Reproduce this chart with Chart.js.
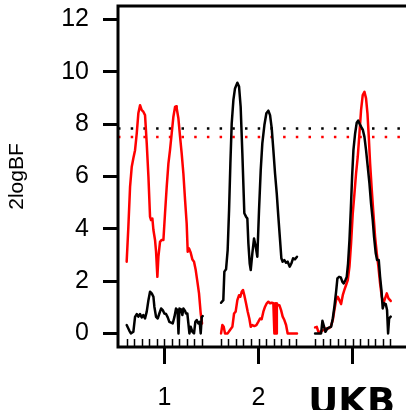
<!DOCTYPE html>
<html>
<head>
<meta charset="utf-8">
<script src="https://cdn.jsdelivr.net/npm/chart.js@4.4.1/dist/chart.umd.min.js"></script>
<style>
html,body{margin:0;padding:0;background:#fff;overflow:hidden;width:406px;height:410px;}
canvas{display:block;}
</style>
</head>
<body>
<canvas id="c" width="440" height="410" style="width:440px;height:410px"></canvas>
<script>
// ---- data ----
const yTicks = [0, 2, 4, 6, 8, 10, 12];
const xTickValues = [1, 2, 3];
const xTickLabels = ['1', '2', ''];   // label "3" is hidden under the logo
const yTitle = '2logBF';
const logoText = 'UKB';
const thresholdBlack = 7.83;
const thresholdRed = 7.5;
const groupStarts = [0.6, 1.6, 2.6];

const redGroup1 = [[0.600,2.74],[0.618,4.07],[0.636,5.6],[0.654,6.37],[0.671,6.69],[0.689,7.0],[0.707,7.64],[0.724,8.41],[0.742,8.72],[0.760,8.53],[0.777,8.47],[0.795,8.34],[0.813,7.26],[0.831,5.99],[0.848,4.46],[0.859,4.33],[0.873,4.39],[0.884,3.95],[0.901,3.57],[0.912,3.12],[0.926,2.16],[0.937,2.93],[0.954,3.5],[0.972,3.57],[0.990,3.57],[1.007,4.58],[1.025,5.6],[1.043,6.49],[1.060,7.0],[1.078,7.64],[1.096,8.28],[1.114,8.66],[1.124,8.68],[1.131,8.6],[1.149,8.22],[1.167,7.51],[1.184,6.88],[1.202,6.11],[1.220,5.09],[1.237,4.20],[1.248,3.12],[1.262,3.25],[1.280,3.08],[1.298,2.82],[1.315,2.74],[1.333,2.42],[1.351,1.97],[1.368,1.53],[1.386,0.76],[1.400,0.38]];
const blackGroup1 = [[0.600,0.32],[0.629,0.10],[0.645,0.0],[0.671,0.06],[0.689,0.63],[0.707,0.74],[0.724,0.64],[0.742,0.74],[0.760,0.61],[0.777,0.70],[0.795,0.57],[0.813,0.83],[0.831,1.27],[0.848,1.59],[0.866,1.53],[0.884,1.40],[0.894,1.02],[0.912,0.63],[0.930,0.57],[0.947,0.76],[0.965,0.95],[0.983,0.89],[1.000,0.76],[1.018,0.74],[1.036,0.61],[1.053,0.44],[1.071,0.41],[1.089,0.38],[1.107,0.63],[1.124,0.95],[1.140,0.89],[1.150,0.0],[1.160,0.95],[1.177,0.92],[1.191,0.70],[1.202,0.95],[1.220,0.86],[1.230,0.76],[1.244,0.76],[1.255,0.38],[1.266,0.0],[1.280,0.25],[1.298,0.06],[1.315,0.0],[1.329,0.44],[1.344,0.51],[1.361,0.38],[1.375,0.44],[1.386,0.0],[1.397,0.63],[1.407,0.66]];
const redGroup2 = [[1.602,0.0],[1.616,0.32],[1.630,0.25],[1.644,0.0],[1.672,0.0],[1.697,0.13],[1.722,0.25],[1.740,0.76],[1.757,0.83],[1.775,1.27],[1.793,1.46],[1.807,1.40],[1.821,1.59],[1.835,1.66],[1.849,1.46],[1.867,1.15],[1.885,0.83],[1.902,0.57],[1.917,0.25],[1.934,0.32],[1.955,0.28],[1.977,0.32],[1.998,0.45],[2.016,0.57],[2.033,0.54],[2.051,0.83],[2.069,1.02],[2.087,1.15],[2.104,1.21],[2.122,1.15],[2.140,1.17],[2.157,1.15],[2.168,0.0],[2.177,1.15],[2.186,0.0],[2.194,1.15],[2.203,1.08],[2.221,1.08],[2.239,0.89],[2.256,0.64],[2.274,0.51],[2.292,0.32],[2.309,0.0],[2.352,0.0],[2.408,0.0]];
const blackGroup2 = [[1.602,1.17],[1.626,1.27],[1.637,2.36],[1.655,2.45],[1.672,3.18],[1.687,4.71],[1.701,6.5],[1.715,8.02],[1.733,8.92],[1.750,9.36],[1.775,9.58],[1.793,9.43],[1.810,8.66],[1.828,6.88],[1.849,4.59],[1.867,4.46],[1.881,4.39],[1.892,3.44],[1.906,2.67],[1.917,2.42],[1.934,3.06],[1.952,3.63],[1.970,3.31],[1.987,2.93],[2.005,4.71],[2.023,6.24],[2.040,7.26],[2.062,7.96],[2.083,8.41],[2.104,8.51],[2.122,8.34],[2.140,7.83],[2.157,7.01],[2.175,6.11],[2.193,5.35],[2.210,4.46],[2.228,3.57],[2.242,2.87],[2.256,2.74],[2.274,2.80],[2.292,2.70],[2.309,2.74],[2.331,2.55],[2.348,2.67],[2.366,2.87],[2.387,2.83],[2.408,2.93]];
const redGroup3 = [[2.600,0.23],[2.618,0.25],[2.635,0.06],[2.660,0.06],[2.689,0.13],[2.713,0.19],[2.742,0.19],[2.766,0.25],[2.788,0.51],[2.805,0.89],[2.823,1.27],[2.841,1.40],[2.858,1.27],[2.876,1.12],[2.894,1.46],[2.911,1.66],[2.929,1.85],[2.947,2.04],[2.965,2.55],[2.982,3.44],[3.000,4.59],[3.018,5.35],[3.035,6.11],[3.053,6.75],[3.071,7.64],[3.088,8.53],[3.106,9.11],[3.124,9.23],[3.141,8.98],[3.156,8.41],[3.170,7.51],[3.184,6.50],[3.202,5.48],[3.219,4.59],[3.237,3.69],[3.255,3.06],[3.272,2.55],[3.290,1.91],[3.308,1.40],[3.325,1.15],[3.343,1.34],[3.361,1.53],[3.379,1.34],[3.403,1.24]];
const blackGroup3 = [[2.600,0.0],[2.635,0.0],[2.664,0.0],[2.678,0.48],[2.696,0.25],[2.710,0.06],[2.731,0.19],[2.752,0.23],[2.770,0.25],[2.788,0.57],[2.805,1.02],[2.823,1.59],[2.837,2.10],[2.855,2.16],[2.873,2.14],[2.890,1.97],[2.904,1.91],[2.922,2.04],[2.936,2.16],[2.950,2.67],[2.965,3.57],[2.979,4.71],[2.993,5.99],[3.007,7.0],[3.025,7.64],[3.042,8.05],[3.057,8.13],[3.071,8.02],[3.088,7.90],[3.106,7.79],[3.124,7.51],[3.141,7.0],[3.159,6.37],[3.177,5.73],[3.194,4.97],[3.212,4.33],[3.226,3.69],[3.244,3.06],[3.258,2.80],[3.276,2.80],[3.290,2.16],[3.304,1.66],[3.318,0.95],[3.333,1.15],[3.350,1.12],[3.364,0.89],[3.375,0.0],[3.386,0.57],[3.403,0.64]];

// ---- layout constants ----
const X_MIN = 0.508, X_MAX = 3.926;
const Y_MIN = -0.52, Y_MAX = 12.51;
const FONT = "'Liberation Sans', Arial, sans-serif";

const toXY = arr => arr.map(p => ({x: p[0], y: p[1]}));

function curve(data, color, order) {
  return {data: toXY(data), borderColor: color, borderWidth: 2.5, pointRadius: 0,
          tension: 0, fill: false, order: order, borderJoinStyle: 'round', borderCapStyle: 'round'};
}
function hline(y, color) {
  return {data: [{x: X_MIN, y: y}, {x: X_MAX, y: y}], borderColor: color, borderWidth: 2.5,
          borderDash: [2.5, 10.2], borderCapStyle: 'butt', pointRadius: 0, fill: false, order: 2};
}

const decorPlugin = {
  id: 'decor',
  afterDraw(chart) {
    const ctx = chart.ctx, a = chart.chartArea, xs = chart.scales.x;
    ctx.save();
    ctx.strokeStyle = '#000'; ctx.lineWidth = 3;
    ctx.strokeRect(a.left, a.top, a.right - a.left, a.bottom - a.top);
    ctx.lineWidth = 1.5;
    groupStarts.forEach(s => {
      for (let i = 0; i <= 10; i++) {
        const px = Math.round(xs.getPixelForValue(s + i * 0.08)) + 0.5;
        ctx.beginPath(); ctx.moveTo(px, a.bottom); ctx.lineTo(px, a.bottom - 8); ctx.stroke();
      }
    });
    ctx.fillStyle = '#000';
    ctx.font = "bold 37px 'DejaVu Sans'";
    ctx.textAlign = 'center'; ctx.textBaseline = 'alphabetic';
    ctx.fillText(logoText, xs.getPixelForValue(3) - 1, 414);
    ctx.restore();
  }
};

new Chart(document.getElementById('c'), {
  type: 'line',
  data: {
    datasets: [
      curve(blackGroup1, '#000000', 0), curve(blackGroup2, '#000000', 0), curve(blackGroup3, '#000000', 0),
      curve(redGroup1, '#ff0000', 1), curve(redGroup2, '#ff0000', 1), curve(redGroup3, '#ff0000', 1),
      hline(thresholdBlack, '#000000'), hline(thresholdRed, '#ff0000')
    ]
  },
  options: {
    responsive: false, animation: false, devicePixelRatio: 1,
    layout: {padding: {left: 0, right: 0, top: 6, bottom: 0}},
    plugins: {legend: {display: false}, tooltip: {enabled: false}},
    scales: {
      x: {
        type: 'linear', min: X_MIN, max: X_MAX,
        afterBuildTicks: s => { s.ticks = xTickValues.map(v => ({value: v})); },
        afterFit: s => { s.height = 63; s.paddingLeft = 0; s.paddingRight = 0; },
        border: {display: false},
        grid: {drawOnChartArea: false, drawTicks: true, tickLength: 17, tickWidth: 3, tickColor: '#000'},
        ticks: {
          color: '#000', padding: 19, maxRotation: 0, autoSkip: false,
          font: {family: FONT, size: 25},
          callback: (v) => { const i = xTickValues.indexOf(v); return i >= 0 ? xTickLabels[i] : ''; }
        }
      },
      y: {
        type: 'linear', min: Y_MIN, max: Y_MAX,
        afterBuildTicks: s => { s.ticks = yTicks.map(v => ({value: v})); },
        afterFit: s => { s.width = 118; s.paddingTop = 0; s.paddingBottom = 0; },
        border: {display: false},
        grid: {drawOnChartArea: false, drawTicks: true, tickLength: 15, tickWidth: 3, tickColor: '#000'},
        ticks: {color: '#000', padding: 14, autoSkip: false, font: {family: FONT, size: 25},
                callback: v => String(v)},
        title: {display: true, text: yTitle, color: '#000', font: {family: FONT, size: 21},
                padding: {top: 5, bottom: 0}}
      }
    }
  },
  plugins: [decorPlugin]
});
</script>
</body>
</html>
